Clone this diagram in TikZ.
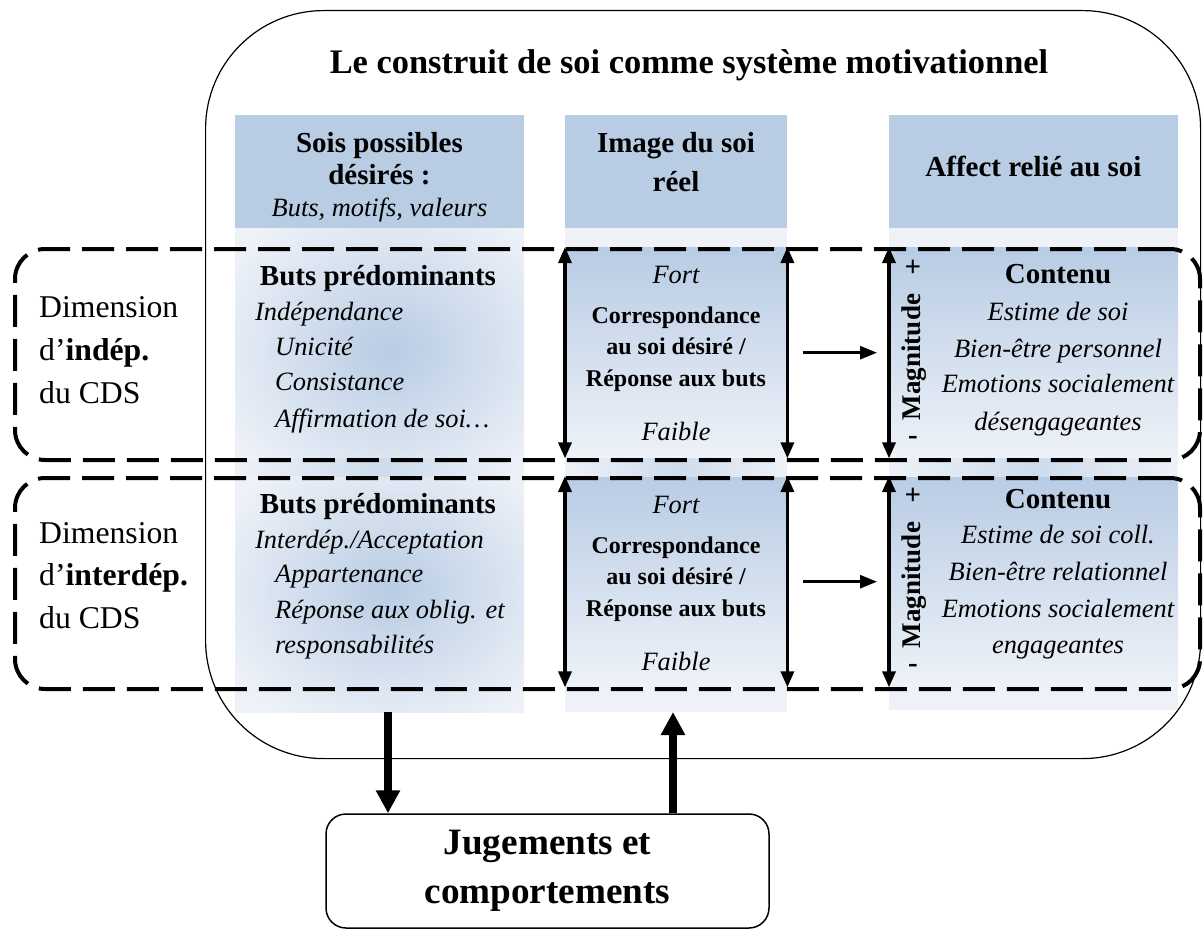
\documentclass[tikz,border=0pt]{standalone}
\usepackage{fontspec}
\setmainfont{Liberation Serif}
\usetikzlibrary{arrows.meta}
\definecolor{hdrblue}{HTML}{B8CCE4}
\definecolor{palebg}{HTML}{EEF2F8}
\tikzset{
    colbox/.style={inner sep=0, anchor=north west},
    hdr/.style={colbox, fill=hdrblue},
    colbody/.style={colbox, fill=palebg},
    rowband/.style={colbox, top color=hdrblue, bottom color=palebg},
    dimbox/.style={colbox, draw, line width=4pt, dash pattern=on 32pt off 12pt, rounded corners=30pt},
    updown/.style={line width=3.3pt, {Triangle[length=16pt,width=13pt]}-{Triangle[length=16pt,width=13pt]}},
    linkarrow/.style={line width=2.6pt, -{Triangle[length=17pt,width=13pt]}},
    fatarrow/.style={line width=8pt, -{Triangle[length=23pt,width=23pt]}},
    bfhead/.style={font=\fontsize{29}{32}\selectfont\bfseries, anchor=base, inner sep=0},
    bfmid/.style={font=\fontsize{24}{28}\selectfont\bfseries, anchor=base, inner sep=0},
    itline/.style={font=\fontsize{26.4}{30}\selectfont\itshape, anchor=base, inner sep=0},
    dimtext/.style={font=\fontsize{31.7}{36}\selectfont, anchor=base west, inner sep=0},
}
\begin{document}
\begin{tikzpicture}[x=1pt, y=-1pt]
\useasboundingbox (0,0) rectangle (1203,931);

% columns
\node[hdr, minimum width=289pt, minimum height=113pt] (h1) at (235,115) {};
\node[hdr, minimum width=222pt, minimum height=113pt] (h2) at (565,115) {};
\node[hdr, minimum width=289pt, minimum height=113pt] (h3) at (889,115) {};
\node[colbody, minimum width=289pt, minimum height=484pt] (c1) at (235,228) {};
\node[colbody, minimum width=222pt, minimum height=484pt] (c2) at (565,228) {};
\node[colbody, minimum width=289pt, minimum height=482pt] (c3) at (889,228) {};
\foreach \top/\bot/\ya/\yb in {228/458/190/510, 458/712/440/740}{
    \begin{scope}
    \clip (235,\top) rectangle (524,\bot);
    \shade[inner color=hdrblue, outer color=palebg] (200,\ya) rectangle (580,\yb);
    \end{scope}
}
\node[rowband, minimum width=222pt, minimum height=211pt] (c2A) at (565,247) {};
\node[rowband, minimum width=222pt, minimum height=211pt] (c2B) at (565,476) {};
\node[rowband, minimum width=289pt, minimum height=211pt] (c3A) at (889,247) {};
\node[rowband, minimum width=289pt, minimum height=211pt] (c3B) at (889,476) {};
\foreach \a/\b in {235/524, 565/787, 889/1178}
    \shade[left color=palebg, right color=palebg, middle color=hdrblue!70] (\a,458) rectangle (\b,476);

% frames
\node[colbox, draw, line width=1.2pt, rounded corners=118pt, minimum width=995pt, minimum height=748pt] (cds) at (205,10) {};
\node[dimbox, minimum width=1185pt, minimum height=211pt] (dA) at (13,247) {};
\node[dimbox, minimum width=1185pt, minimum height=211pt] (dB) at (13,476) {};

\node[font=\fontsize{34.4}{40}\selectfont\bfseries, anchor=base, inner sep=0] (title) at (689,74) {Le construit de soi comme système motivationnel};

\node[bfhead] (s1) at (379.5,153) {Sois possibles};
\node[bfhead] (s2) at (379.5,185) {désirés :};
\node[itline] (s3) at (379.5,217) {Buts, motifs, valeurs};
\node[bfhead] (i1) at (676,153) {Image du soi};
\node[bfhead] (i2) at (676,192) {réel};
\node[bfhead] (a1) at (1033.5,177) {Affect relié au soi};

\node[dimtext] (dA1) at (39,317) {Dimension};
\node[dimtext] (dA2) at (39,360) {d’\textbf{indép.}};
\node[dimtext] (dA3) at (39,403) {du CDS};
\node[dimtext] (dB1) at (39,543) {Dimension};
\node[dimtext] (dB2) at (39,585) {d’\textbf{interdép.}};
\node[dimtext] (dB3) at (39,628) {du CDS};

\node[bfhead] (bA) at (378,285) {Buts prédominants};
\foreach \x/\y/\t [count=\i] in {255/320/Indépendance, 275/355/Unicité, 275/390/Consistance, 275/427/Affirmation de soi…}
    \node[itline, anchor=base west] (gA\i) at (\x,\y) {\t};
\node[bfhead] (bB) at (378,513) {Buts prédominants};
\foreach \x/\y/\t [count=\i] in {255/548/{Interdép./Acceptation}, 275/582/Appartenance, 275/618/Réponse aux oblig. et, 275/653/responsabilités}
    \node[itline, anchor=base west] (gB\i) at (\x,\y) {\t};

\foreach \r/\dy in {A/0, B/230}{
    \node[itline] (fo\r) at (676,283+\dy) {Fort};
    \node[bfmid] (co\r) at (676,323+\dy) {Correspondance};
    \node[bfmid] (au\r) at (676,354+\dy) {au soi désiré /};
    \node[bfmid] (re\r) at (676,386+\dy) {Réponse aux buts};
    \node[itline] (fa\r) at (676,440+\dy) {Faible};
    \draw[updown] (c2\r.north west) -- (c2\r.south west);
    \draw[updown] (c2\r.north east) -- (c2\r.south east);
    \draw[updown] (c3\r.north west) -- (c3\r.south west);
    \draw[linkarrow] ([xshift=16pt]c2\r.east) -- ([xshift=-12pt]c3\r.west);
}
\foreach \r/\dy in {A/0, B/228}{
    \node[bfhead, anchor=center] (pl\r) at (913,268+\dy) {+};
    \node[bfhead, anchor=center] (mi\r) at (913,440+\dy) {-};
    \node[font=\fontsize{27}{30}\selectfont\bfseries, inner sep=0, rotate=90, anchor=base] (mg\r) at (920,357+\dy) {Magnitude};
}

\node[bfhead] (ctA) at (1058,283) {Contenu};
\node[itline] (eA) at (1058,320) {Estime de soi};
\node[itline] (wA) at (1058,357) {Bien-être personnel};
\node[itline] (mA) at (1058,392) {Emotions socialement};
\node[itline] (nA) at (1058,430) {désengageantes};
\node[bfhead] (ctB) at (1058,508) {Contenu};
\node[itline] (eB) at (1058,543) {Estime de soi coll.};
\node[itline] (wB) at (1058,580) {Bien-être relationnel};
\node[itline] (mB) at (1058,617) {Emotions socialement};
\node[itline] (nB) at (1058,653) {engageantes};

\node[draw, line width=1.5pt, rounded corners=20pt, minimum width=443pt, minimum height=114pt, inner sep=0, align=center, font=\fontsize{37.2}{49}\selectfont\bfseries] (jug) at (547.5,871) {Jugements et\\comportements};
\coordinate (toJ) at (388,712);
\coordinate (fromJ) at (673,712);
\draw[fatarrow] (toJ) -- (toJ |- jug.north);
\draw[fatarrow] (fromJ |- jug.north) -- (fromJ);
\end{tikzpicture}
\end{document}
